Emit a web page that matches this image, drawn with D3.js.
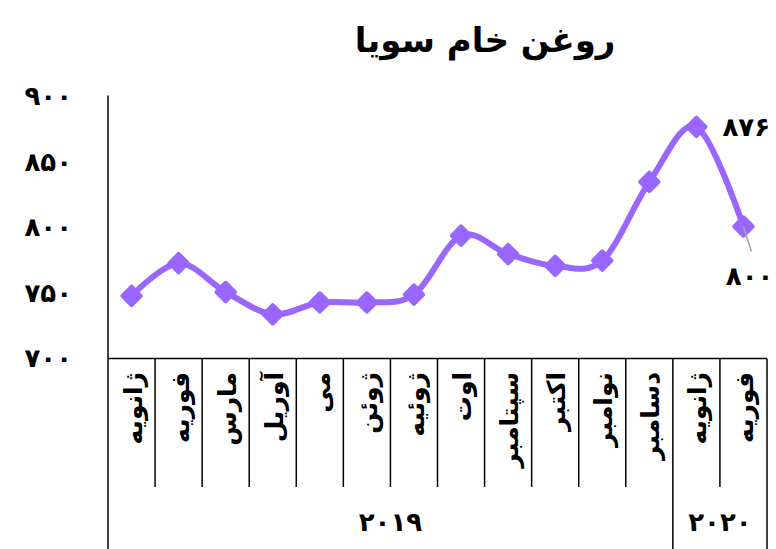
<!DOCTYPE html>
<html>
<head>
<meta charset="utf-8">
<script src="https://cdn.jsdelivr.net/npm/d3@7"></script>
<style>
  body { margin: 0; background: #fff; }
  text { font-family: "DejaVu Sans", sans-serif; font-weight: bold; fill: #000; }
</style>
</head>
<body>
<div id="chart"></div>
<script>
// data
var months = ["ژانویه", "فوریه", "مارس", "آوریل", "می", "ژوئن", "ژوئیه", "اوت", "سپتامبر", "اکتبر", "نوامبر", "دسامبر", "ژانویه", "فوریه"];
var prices = [747, 772, 750, 733, 742, 742, 748, 793, 779, 770, 774, 834, 876, 800];
var years = ["۲۰۱۹", "۲۰۲۰"];
var yearCounts = [12, 2];
var yTicks = [700, 750, 800, 850, 900];
var yTickLabels = ["۷۰۰", "۷۵۰", "۸۰۰", "۸۵۰", "۹۰۰"];
var labelled = {12: "۸۷۶", 13: "۸۰۰"};

var width = 776, height = 549;
var plotLeft = 108, plotRight = 767, plotTop = 95.5, plotBottom = 357.5;
var purple = "#9966ff";

var svg = d3.select("#chart").append("svg")
    .attr("width", width)
    .attr("height", height);

svg.append("text")
    .attr("x", 485)
    .attr("y", 52)
    .attr("text-anchor", "middle")
    .attr("font-size", "34px")
    .text("روغن خام سویا");

var xScale = d3.scaleBand().domain(d3.range(months.length)).range([plotLeft, plotRight]);
var yScale = d3.scaleLinear().domain([700, 900]).range([plotBottom, plotTop]);

// y axis labels, no ticks
var yAxis = svg.append("g")
    .attr("transform", "translate(" + plotLeft + ",0)")
    .call(d3.axisLeft(yScale).tickValues(yTicks).tickSize(0).tickPadding(36)
        .tickFormat(function(d, i) { return yTickLabels[i]; }));
yAxis.select(".domain").remove();
yAxis.selectAll("text").attr("font-size", "26px").attr("font-family", "DejaVu Sans").attr("dy", "0.35em");

var lineColor = "#000";
// left axis line, running down through the category area
svg.append("line").attr("x1", plotLeft).attr("x2", plotLeft).attr("y1", plotTop).attr("y2", height)
    .attr("stroke", lineColor).attr("stroke-width", 1.5);
// bottom axis
svg.append("line").attr("x1", plotLeft).attr("x2", plotRight).attr("y1", plotBottom + 1).attr("y2", plotBottom + 1)
    .attr("stroke", lineColor).attr("stroke-width", 1.5);

// category separators
var yearEnds = [];
var acc = 0;
yearCounts.forEach(function(c) { acc += c; yearEnds.push(acc); });
d3.range(1, months.length + 1).forEach(function(i) {
    var x = i < months.length ? xScale(i) : plotRight;
    var isYear = yearEnds.indexOf(i) >= 0;
    svg.append("line")
        .attr("x1", x).attr("x2", x)
        .attr("y1", plotBottom + 1)
        .attr("y2", isYear ? height : 487)
        .attr("stroke", lineColor).attr("stroke-width", 1.5);
});

// month labels, rotated
svg.selectAll(".month")
    .data(months)
    .enter().append("text")
    .attr("class", "month")
    .attr("font-size", "25px")
    .attr("text-anchor", "end")
    .attr("transform", function(d, i) {
        return "translate(" + (xScale(i) + xScale.bandwidth() / 2 + 10) + "," + 372 + ") rotate(-90)";
    })
    .text(function(d) { return d; });

// year labels
var start = 0;
years.forEach(function(y, k) {
    var x0 = xScale(start);
    var x1 = start + yearCounts[k] < months.length ? xScale(start + yearCounts[k]) : plotRight;
    svg.append("text")
        .attr("x", (x0 + x1) / 2)
        .attr("y", 531)
        .attr("text-anchor", "middle")
        .attr("font-size", "26px")
        .text(y);
    start += yearCounts[k];
});

// line
var line = d3.line()
    .x(function(d, i) { return xScale(i) + xScale.bandwidth() / 2; })
    .y(function(d) { return yScale(d); })
    .curve(d3.curveCardinal.tension(0));

svg.append("path")
    .datum(prices)
    .attr("d", line)
    .attr("fill", "none")
    .attr("stroke", purple)
    .attr("stroke-width", 6)
    .attr("stroke-linejoin", "round");

svg.selectAll(".marker")
    .data(prices)
    .enter().append("path")
    .attr("class", "marker")
    .attr("d", d3.symbol().type(d3.symbolSquare).size(170))
    .attr("transform", function(d, i) {
        return "translate(" + (xScale(i) + xScale.bandwidth() / 2) + "," + yScale(d) + ") rotate(45)";
    })
    .attr("fill", purple)
    .attr("stroke", purple)
    .attr("stroke-width", 4)
    .attr("stroke-linejoin", "round");

// data labels
var cx12 = xScale(12) + xScale.bandwidth() / 2;
svg.append("text")
    .attr("x", cx12 + 26)
    .attr("y", yScale(prices[12]) + 9)
    .attr("font-size", "26px")
    .text(labelled[12]);

var cx13 = xScale(13) + xScale.bandwidth() / 2;
svg.append("line")
    .attr("x1", cx13).attr("y1", yScale(prices[13]))
    .attr("x2", cx13 + 8).attr("y2", yScale(prices[13]) + 25)
    .attr("stroke", "#a6a6a6").attr("stroke-width", 1.5);
svg.append("text")
    .attr("x", cx13 + 30)
    .attr("y", yScale(prices[13]) + 58)
    .attr("text-anchor", "end")
    .attr("font-size", "26px")
    .text(labelled[13]);
</script>
</body>
</html>
